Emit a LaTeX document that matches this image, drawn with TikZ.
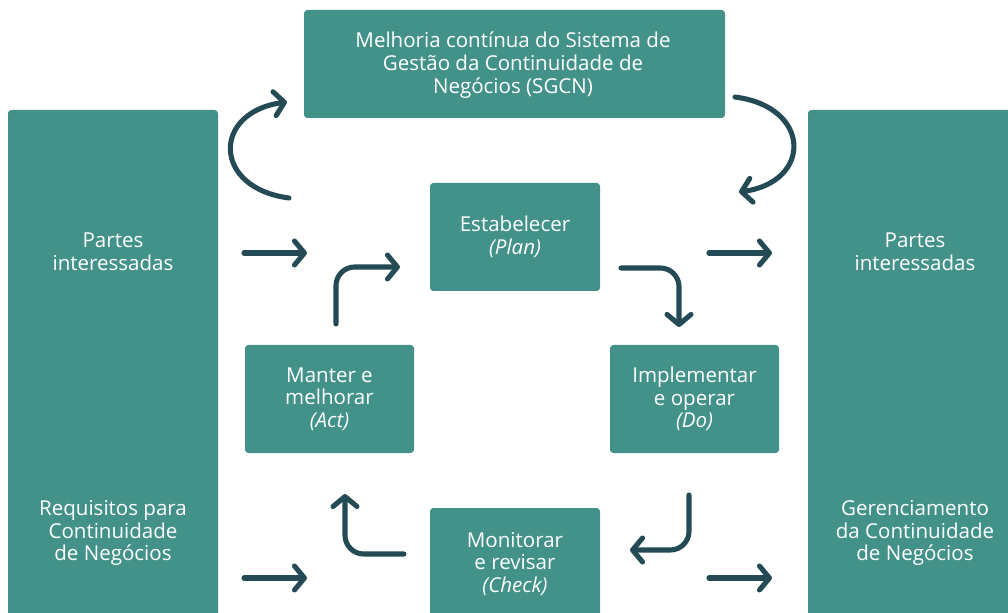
\documentclass[tikz,border=0pt]{standalone}
\usepackage{fontspec}
\setmainfont{Open Sans}
\usetikzlibrary{arrows.meta}
\definecolor{teal}{RGB}{67,146,137}
\definecolor{dark}{RGB}{36,74,86}
\begin{document}
\begin{tikzpicture}[x=0.75pt,y=-0.75pt,
  box/.style={fill=teal,rounded corners=2.5pt,draw=none,text=white,align=center,font=\fontsize{15.4}{17}\selectfont},
  lbl/.style={text=white,align=center,font=\fontsize{15.4}{17}\selectfont},
  arr/.style={draw=dark,line width=3.8pt,line cap=round,line join=round,-{Straight Barb[round,length=7.5pt,width=18pt]}}]
\useasboundingbox (0,0) rectangle (1008,613);
% boxes
\path[box] (304,10) rectangle (725,118);
\node[lbl] (top) at (513,65) {Melhoria contínua do Sistema de\\Gestão da Continuidade de\\Negócios (SGCN)};
\path[box] (8,110) rectangle (218,625);
\path[box] (808,110) rectangle (1020,625);
\node[lbl] (lp) at (113,252) {Partes\\interessadas};
\node[lbl] (lr) at (113,533) {Requisitos para\\Continuidade\\de Negócios};
\node[lbl] (rp) at (915,252) {Partes\\interessadas};
\node[lbl] (rg) at (915,533) {Gerenciamento\\da Continuidade\\de Negócios};
\node[box,minimum width=170*0.75pt,minimum height=108*0.75pt] (plan) at (515,237) {};
\node[lbl] (plant) at (515,237) {Estabelecer\\\textit{(Plan)}};
\node[box,minimum width=169*0.75pt,minimum height=108*0.75pt] (act) at (329.5,399) {};
\node[lbl] (actt) at (329.5,399) {Manter e\\melhorar\\\textit{(Act)}};
\node[box,minimum width=169*0.75pt,minimum height=108*0.75pt] (do) at (694.5,399) {};
\node[lbl] (dot) at (694.5,399) {Implementar\\e operar\\\textit{(Do)}};
\path[box] (430,508) rectangle (600,625);
\node[lbl] (check) at (515,564) {Monitorar\\e revisar\\\textit{(Check)}};
% coordinates
\coordinate (a1s) at (244,253); \coordinate (a1e) at (307,253);
\coordinate (a2s) at (244,578); \coordinate (a2e) at (307,578);
\coordinate (a3s) at (709,253); \coordinate (a3e) at (772,253);
\coordinate (a4s) at (709,578); \coordinate (a4e) at (772,578);
\draw[arr] (a1s) -- (a1e);
\draw[arr] (a2s) -- (a2e);
\draw[arr] (a3s) -- (a3e);
\draw[arr] (a4s) -- (a4e);
% top arcs
\coordinate (tls) at (289,198); \coordinate (tle) at (287,102);
\draw[arr] (tls) .. controls (212,188) and (212,112) .. (tle);
\coordinate (trs) at (735,97); \coordinate (tre) at (739,192);
\draw[arr] (trs) .. controls (812,107) and (812,182) .. (tre);
% cycle arrows
\coordinate (pd1) at (621,268); \coordinate (pd2) at (679,327);
\draw[arr,rounded corners=14pt] (pd1) -- (679,268) -- (pd2);
\coordinate (dc1) at (689,495); \coordinate (dc2) at (630,550);
\draw[arr,rounded corners=14pt] (dc1) -- (689,550) -- (dc2);
\coordinate (ca1) at (404,554); \coordinate (ca2) at (345,494);
\draw[arr,rounded corners=14pt] (ca1) -- (345,554) -- (ca2);
\coordinate (ap1) at (336,324); \coordinate (ap2) at (400,267);
\draw[arr,rounded corners=14pt] (ap1) -- (336,267) -- (ap2);
\end{tikzpicture}
\end{document}
